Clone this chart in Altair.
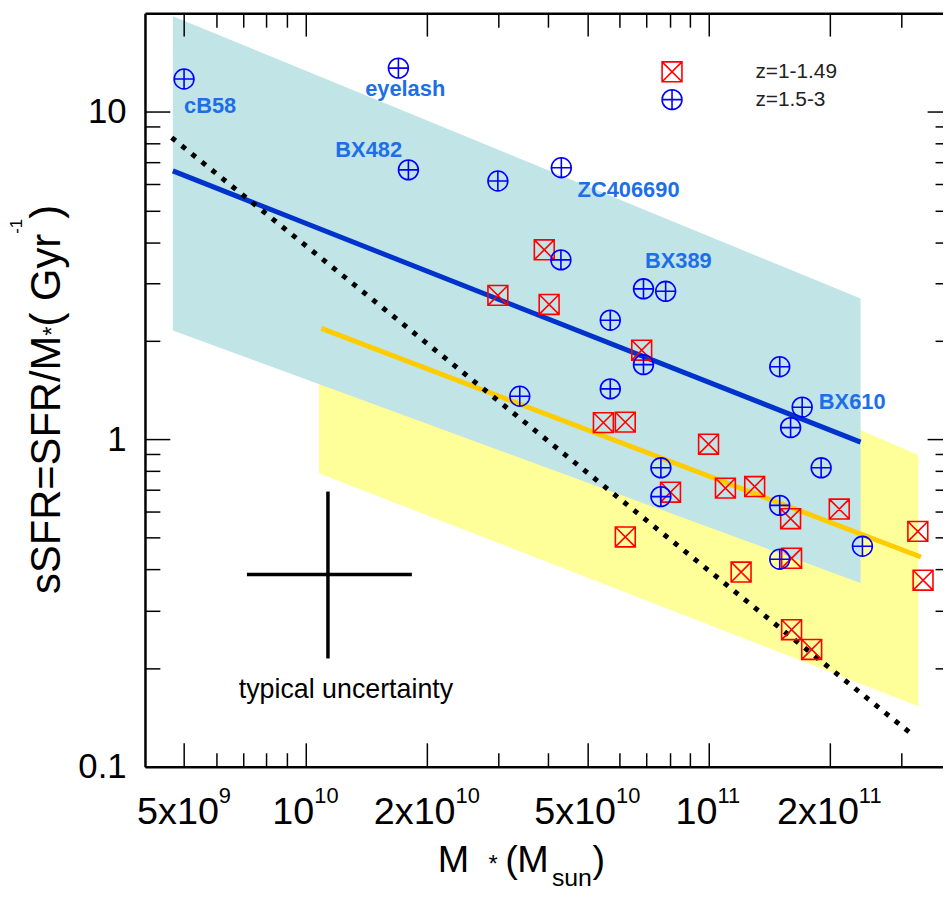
import altair as alt
import pandas as pd

# ---------------- data ----------------
z_labels = ["z=1-1.49", "z=1.5-3"]

z1_mass = [3.0e10, 3.91e10, 4.02e10, 6.82e10, 5.48e10, 6.21e10, 9.99e10, 8.04e10,
           1.10e11, 1.30e11, 1.596e11, 2.107e11, 3.30e11, 3.40e11, 1.605e11,
           1.203e11, 6.21e10, 1.605e11, 1.80e11]
z1_ssfr = [2.75, 3.79, 2.58, 1.87, 1.124, 1.128, 0.966, 0.689,
           0.709, 0.717, 0.572, 0.612, 0.523, 0.371, 0.433,
           0.393, 0.503, 0.262, 0.228]

z2_mass = [5.0e9, 1.70e10, 1.80e10, 3.0e10, 4.31e10, 4.30e10, 6.89e10, 7.82e10,
           5.70e10, 6.89e10, 5.70e10, 3.40e10, 1.50e11, 1.705e11, 1.596e11,
           1.90e11, 7.61e10, 7.61e10, 1.50e11, 2.405e11, 1.50e11]
z2_ssfr = [12.6, 13.6, 6.65, 6.15, 6.75, 3.53, 2.88, 2.83,
           2.31, 1.69, 1.425, 1.353, 1.665, 1.253, 1.085,
           0.818, 0.818, 0.668, 0.628, 0.471, 0.43]

name_text = ["cB58", "eyelash", "BX482", "ZC406690", "BX389", "BX610"]
name_mass = [5.0e9, 1.406e10, 1.186e10, 4.73e10, 6.95e10, 1.875e11]
name_ssfr = [9.95, 11.2, 7.27, 5.5, 3.33, 1.233]

fit_hiz_mass = [4.69e9, 2.38e11]
fit_hiz_ssfr = [6.6, 0.98]
fit_loz_mass = [1.095e10, 3.36e11]
fit_loz_ssfr = [2.18, 0.437]
const_sfr_mass = [4.66e9, 3.23e11]
const_sfr_ssfr = [8.34, 0.124]

band_hiz_mass = [4.69e9, 2.38e11]
band_hiz_upper = [19.6, 2.69]
band_hiz_lower = [2.15, 0.364]
band_loz_mass = [1.08e10, 3.31e11]
band_loz_upper = [5.5, 0.895]
band_loz_lower = [0.787, 0.153]

err_mass = [1.137e10]
err_mass_lo = [7.16e9]
err_mass_hi = [1.836e10]
err_ssfr = [0.386]
err_ssfr_lo = [0.214]
err_ssfr_hi = [0.692]
err_text = ["typical uncertainty"]
err_text_mass = [1.26e10]
err_text_ssfr = [0.1616]

x_label_vals = [5e9, 1e10, 2e10, 5e10, 1e11, 2e11]
x_label_base = ["5x10", "10", "2x10", "5x10", "10", "2x10"]
x_label_exp = ["9", "10", "10", "10", "11", "11"]
x_minor = [6e9, 7e9, 8e9, 9e9, 3e10, 4e10, 6e10, 7e10, 8e10, 9e10, 3e11]
y_major = [0.1, 1, 10]
y_minor = [0.2, 0.3, 0.4, 0.5, 0.6, 0.7, 0.8, 0.9, 2, 3, 4, 5, 6, 7, 8, 9]

x_title_parts = ["M", "*", "(", "M", "sun", ")"]
y_title_parts = ["sSFR=SFR/M", "*", " (", "Gyr", "-1", ")"]

# ---------------- layout / style ----------------
W, H = 804, 759
FONT = "Liberation Sans"
xscale = alt.Scale(type="log", domain=[4e9, 3.81e11], nice=False)
yscale = alt.Scale(type="log", domain=[0.1, 20], nice=False)

CYAN = "#c1e4e7"
YELLOW = "#ffff99"
LABEL_BLUE = "#1d6fe8"

HELV = {"0": .556, "1": .556, "2": .556, "3": .556, "4": .556, "5": .556,
        "6": .556, "7": .556, "8": .556, "9": .556, "x": .5}


def tw(s, fs):
    return sum(HELV[c] for c in s) * fs


def major_test(vals):
    return "indexof([" + ",".join(repr(float(v)) for v in vals) + "], datum.value) >= 0"


x_ticks = sorted(x_label_vals + x_minor)
y_ticks = sorted(y_major + y_minor)


def tick_axis(orient, offset, values, test, major, minor, domain=True):
    return alt.Axis(orient=orient, offset=offset, values=values, labels=False,
                    ticks=True, tickColor="black", tickWidth=1.5,
                    tickSize={"condition": {"test": test, "value": major}, "value": minor},
                    domain=domain, domainColor="black", domainWidth=2.5,
                    grid=False, title=None, zindex=2)


ax_bottom = tick_axis("top", -H, x_ticks, major_test(x_label_vals), 24, 14)
ax_top = tick_axis("bottom", -H, x_ticks, major_test(x_label_vals), 23, 14)
ax_left = tick_axis("right", -W, y_ticks, major_test(y_major), 25, 15)
ax_right = tick_axis("left", -W, y_ticks, major_test(y_major), 16, 8, domain=False)
ax_ylabels = alt.Axis(orient="left", values=y_major, ticks=False, domain=False,
                      grid=False, title=None, labelFont=FONT, labelFontSize=35,
                      labelColor="black", labelPadding=19, format="~g",
                      labelFlush=False, labelOverlap=False)

# ---------------- layers ----------------
band_loz = alt.Chart(pd.DataFrame({"m": band_loz_mass, "lo": band_loz_lower,
                                   "hi": band_loz_upper})).mark_area(color=YELLOW, opacity=1).encode(
    x=alt.X("m:Q", scale=xscale, axis=ax_top),
    y=alt.Y("lo:Q", scale=yscale, axis=ax_right),
    y2="hi:Q")

band_hiz = alt.Chart(pd.DataFrame({"m": band_hiz_mass, "lo": band_hiz_lower,
                                   "hi": band_hiz_upper})).mark_area(color=CYAN, opacity=1).encode(
    x=alt.X("m:Q", scale=xscale, axis=ax_bottom),
    y=alt.Y("lo:Q", scale=yscale, axis=ax_left),
    y2="hi:Q")

line_hiz = alt.Chart(pd.DataFrame({"m": fit_hiz_mass, "s": fit_hiz_ssfr})).mark_line(
    color="#0033cc", strokeWidth=5).encode(
    x=alt.X("m:Q", scale=xscale, axis=None),
    y=alt.Y("s:Q", scale=yscale, axis=ax_ylabels))

line_loz = alt.Chart(pd.DataFrame({"m": fit_loz_mass, "s": fit_loz_ssfr})).mark_line(
    color="#ffcc00", strokeWidth=5).encode(
    x=alt.X("m:Q", scale=xscale, axis=None),
    y=alt.Y("s:Q", scale=yscale, axis=None))

line_const = alt.Chart(pd.DataFrame({"m": const_sfr_mass, "s": const_sfr_ssfr})).mark_line(
    color="black", strokeWidth=5, strokeDash=[5, 8], strokeCap="butt").encode(
    x=alt.X("m:Q", scale=xscale, axis=None),
    y=alt.Y("s:Q", scale=yscale, axis=None))

err_df = pd.DataFrame({"m": err_mass, "mlo": err_mass_lo, "mhi": err_mass_hi,
                       "s": err_ssfr, "slo": err_ssfr_lo, "shi": err_ssfr_hi})
err_h = alt.Chart(err_df).mark_rule(color="black", strokeWidth=3.5).encode(
    x=alt.X("mlo:Q", scale=xscale, axis=None), x2="mhi:Q",
    y=alt.Y("s:Q", scale=yscale, axis=None))
err_v = alt.Chart(err_df).mark_rule(color="black", strokeWidth=3.5).encode(
    x=alt.X("m:Q", scale=xscale, axis=None),
    y=alt.Y("slo:Q", scale=yscale, axis=None), y2="shi:Q")
err_lbl = alt.Chart(pd.DataFrame({"m": err_text_mass, "s": err_text_ssfr, "t": err_text})).mark_text(
    font=FONT, fontSize=27, color="black", align="center", baseline="alphabetic").encode(
    x=alt.X("m:Q", scale=xscale, axis=None),
    y=alt.Y("s:Q", scale=yscale, axis=None), text="t:N")

square_x = "M -1 -1 L 1 -1 L 1 1 L -1 1 Z M -1 -1 L 1 1 M 1 -1 L -1 1"
k = 0.5523
circle_plus = (f"M 1 0 C 1 {k} {k} 1 0 1 C -{k} 1 -1 {k} -1 0 "
               f"C -1 -{k} -{k} -1 0 -1 C {k} -1 1 -{k} 1 0 Z M -1 0 L 1 0 M 0 -1 L 0 1")

pts_df = pd.DataFrame({
    "m": z1_mass + z2_mass,
    "s": z1_ssfr + z2_ssfr,
    "z": [z_labels[0]] * len(z1_mass) + [z_labels[1]] * len(z2_mass),
})
leg = dict(orient="none", legendX=520, legendY=48, title=None, symbolSize=400,
           symbolStrokeWidth=1.6, labelFont=FONT, labelFontSize=21, labelColor="#222222",
           labelOffset=73, rowPadding=0, padding=0)
points = alt.Chart(pts_df).mark_point(filled=False, size=400, strokeWidth=1.6, opacity=1).encode(
    x=alt.X("m:Q", scale=xscale, axis=None),
    y=alt.Y("s:Q", scale=yscale, axis=None),
    color=alt.Color("z:N", scale=alt.Scale(domain=z_labels, range=["#ff0000", "#0000ff"]),
                    legend=alt.Legend(**leg)),
    shape=alt.Shape("z:N", scale=alt.Scale(domain=z_labels, range=[square_x, circle_plus]),
                    legend=alt.Legend(**leg)),
)

names = alt.Chart(pd.DataFrame({"m": name_mass, "s": name_ssfr, "t": name_text})).mark_text(
    font=FONT, fontSize=22, fontWeight="bold", color=LABEL_BLUE, align="left",
    baseline="alphabetic").encode(
    x=alt.X("m:Q", scale=xscale, axis=None),
    y=alt.Y("s:Q", scale=yscale, axis=None), text="t:N")

# x tick labels with superscript exponents
BASE_FS, EXP_FS = 38, 22
xlabel_layers = []
for v, b, e in zip(x_label_vals, x_label_base, x_label_exp):
    wb, we = tw(b, BASE_FS), tw(e, EXP_FS)
    shift = (wb - we) / 2
    df = pd.DataFrame({"m": [v], "b": [b], "e": [e]})
    xlabel_layers.append(alt.Chart(df).mark_text(
        font=FONT, fontSize=BASE_FS, color="black", align="right", baseline="alphabetic",
        dx=shift).encode(x=alt.X("m:Q", scale=xscale, axis=None), y=alt.value(817), text="b:N"))
    xlabel_layers.append(alt.Chart(df).mark_text(
        font=FONT, fontSize=EXP_FS, color="black", align="left", baseline="alphabetic",
        dx=shift).encode(x=alt.X("m:Q", scale=xscale, axis=None), y=alt.value(796), text="e:N"))

# x title  M*(Msun)
x_title_style = [(38, 295, 865), (24, 346, 865), (38, 363, 865), (38, 375, 865),
                 (25, 410, 879), (38, 451, 865)]
title_layers = []
for txt, (fs, px, py) in zip(x_title_parts, x_title_style):
    title_layers.append(alt.Chart(pd.DataFrame({"t": [txt]})).mark_text(
        font=FONT, fontSize=fs, color="black", align="left", baseline="alphabetic").encode(
        x=alt.value(px), y=alt.value(py), text="t:N"))

# y title (rotated) sSFR=SFR/M*(Gyr^-1)
HELV_T = {"s": .5, "S": .667, "F": .611, "R": .722, "=": .584, "/": .278, "M": .833,
          "*": .389, " ": .278, "(": .333, ")": .333, "G": .778, "y": .5, "r": .333,
          "-": .333, "1": .556}
y_title_style = [(42, 0), (24, 0), (42, 0), (42, 0), (17, -38), (42, 0)]
cur = 585
for txt, (fs, shift) in zip(y_title_parts, y_title_style):
    title_layers.append(alt.Chart(pd.DataFrame({"t": [txt]})).mark_text(
        font=FONT, fontSize=fs, color="black", align="left", baseline="alphabetic",
        angle=270).encode(x=alt.value(-86 + shift), y=alt.value(cur), text="t:N"))
    cur -= sum(HELV_T[c] for c in txt) * fs

chart = alt.layer(
    band_loz, band_hiz, line_hiz, line_loz, line_const, err_h, err_v, err_lbl,
    points, names, *xlabel_layers, *title_layers
).resolve_axis(x="independent", y="independent").properties(
    width=W, height=H,
    autosize=alt.AutoSizeParams(type="none"),
    padding={"left": 138, "top": 2, "right": 0, "bottom": 126},
    background="white",
).configure_view(stroke=None).configure(font=FONT)

chart.save("out.html", embed_options={"renderer": "svg", "actions": False})
